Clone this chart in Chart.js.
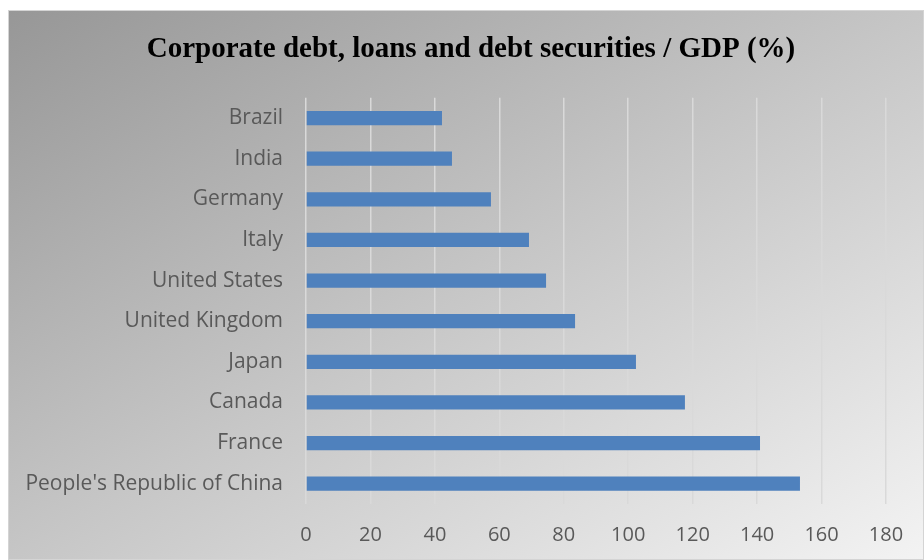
<!DOCTYPE html>
<html>
<head>
<meta charset="utf-8">
<script src="https://cdn.jsdelivr.net/npm/chart.js@4.4.0/dist/chart.umd.min.js"></script>
<style>
    body { margin: 0; background: #fff; }
    #wrap {
        position: absolute; left: 8px; top: 10px;
        width: 914px; height: 548px;
        border: 1px solid #d4d4d4;
        background: linear-gradient(to bottom right, #979797 0%, #c6c6c6 50%, #f3f3f3 100%);
    }
    #debtChart { display: block; }
</style>
</head>
<body>
<div id="wrap"><canvas id="debtChart" width="914" height="548"></canvas></div>
<script>
// Corporate debt / GDP
const countries = [
    "Brazil", "India", "Germany", "Italy", "United States",
    "United Kingdom", "Japan", "Canada", "France", "People's Republic of China"
];
const debtToGdp = [42.2, 45.3, 57.4, 69.2, 74.5, 83.5, 102.4, 117.6, 140.9, 153.3];
const xTicks = [0, 20, 40, 60, 80, 100, 120, 140, 160, 180];

var ctx = document.getElementById('debtChart').getContext('2d');
var debtChart = new Chart(ctx, {
    type: 'bar',
    data: {
        labels: countries,
        datasets: [{
            label: 'Corporate debt / GDP (%)',
            data: debtToGdp,
            backgroundColor: '#4f81bd',
            barPercentage: 0.7,
            categoryPercentage: 0.5
        }]
    },
    options: {
        indexAxis: 'y',
        responsive: false,
        animation: false,
        layout: { padding: { left: 10, right: 0, top: 0, bottom: 0 } },
        plugins: {
            legend: { display: false },
            tooltip: { enabled: false },
            title: {
                display: true,
                text: 'Corporate debt, loans and debt securities / GDP (%)',
                color: '#000',
                font: { family: 'Liberation Serif', size: 29, weight: 'bold' },
                padding: { top: 21, bottom: 31 }
            }
        },
        scales: {
            x: {
                min: 0,
                max: 180,
                afterBuildTicks: function(scale) {
                    scale.ticks = xTicks.map(v => ({ value: v }));
                },
                grid: { color: '#d9d9d9', lineWidth: 1.5, drawTicks: false },
                border: { display: false },
                ticks: {
                    color: '#595959',
                    padding: 19,
                    font: { family: 'Open Sans', size: 20 }
                },
                afterFit: function(scale) {
                    scale.height = 55;
                    scale.paddingRight = 37; // room right of the 180 line
                }
            },
            y: {
                grid: { display: false, drawTicks: false },
                border: { display: false },
                ticks: {
                    color: '#595959',
                    padding: 23,
                    font: { family: 'Open Sans', size: 21 }
                },
                afterFit: function(scale) { scale.width = 287; }
            }
        }
    }
});
</script>
</body>
</html>
